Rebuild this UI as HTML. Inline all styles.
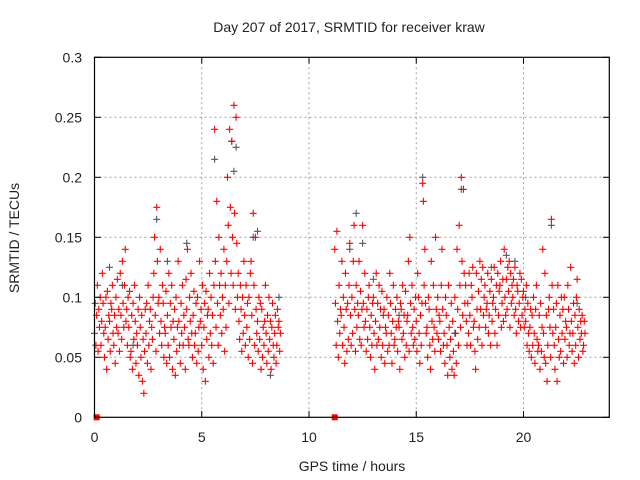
<!DOCTYPE html>
<html><head><meta charset="utf-8"><style>
body{margin:0;background:#fff}
svg{display:block;font-family:"Liberation Sans",sans-serif}
</style></head><body>
<svg id="c" width="640" height="480">
<rect width="640" height="480" fill="#fff"/>
<g id="grid"></g><g id="marks"></g><g id="axes"></g>
</svg>
<script>
const xTicks=[0,5,10,15,20];
const yTicks=[0,0.05,0.1,0.15,0.2,0.25,0.3];
const yTickLabels=["0","0.05","0.1","0.15","0.2","0.25","0.3"];
// red series: [time hours, y1,y2,y3] in 0.001 TECU
const redBins=[
[0.0,70,95,60],[0.1,85,110,55],[0.2,90,75,100],[0.3,60,80,120],[0.4,95,70,50],[0.5,75,100,40],[0.6,105,65,85],[0.7,80,55,95],[0.8,90,110,70],[0.9,60,85,45],
[1.0,100,75,115],[1.1,70,90,55],[1.2,120,85,65],[1.3,130,95,75],[1.4,110,140,80],[1.5,90,60,100],[1.6,75,105,50],[1.7,55,85,40],[1.8,95,65,110],[1.9,80,45,70],
[2.0,60,90,35],[2.1,100,75,50],[2.2,85,30,65],[2.3,20,55,90],[2.4,70,95,45],[2.5,110,60,80],[2.6,90,40,75],[2.7,65,100,120],[2.8,150,85,55],[2.9,175,130,95],
[3.0,100,70,140],[3.1,80,60,110],[3.2,95,50,75],[3.3,70,105,45],[3.4,85,60,120],[3.5,50,95,75],[3.6,110,40,80],[3.7,65,90,35],[3.8,100,55,75],[3.9,130,80,60],
[4.0,45,95,70],[4.1,110,60,85],[4.2,75,40,115],[4.3,90,140,65],[4.4,60,100,80],[4.5,120,70,50],[4.6,85,105,60],[4.7,70,95,45],[4.8,100,55,75],[4.9,130,80,90],
[5.0,60,110,40],[5.1,75,95,30],[5.2,105,65,85],[5.3,90,50,120],[5.4,70,100,60],[5.5,85,45,110],[5.6,240,130,75],[5.7,180,95,60],[5.8,150,110,85],[5.9,120,70,100],
[6.0,90,140,55],[6.1,110,75,130],[6.2,200,160,95],[6.3,240,175,120],[6.4,230,150,110],[6.5,260,170,90],[6.6,250,145,100],[6.7,120,80,65],[6.8,110,90,55],[6.9,100,70,130],
[7.0,85,60,110],[7.1,75,95,50],[7.2,100,65,120],[7.3,130,85,45],[7.4,170,110,60],[7.5,150,90,70],[7.6,80,55,100],[7.7,65,95,40],[7.8,90,50,75],[7.9,60,80,110],
[8.0,70,45,85],[8.1,55,100,65],[8.2,80,40,75],[8.3,95,60,50],[8.4,70,85,45],[8.5,60,90,75],[8.6,80,55,70],
[11.2,140,95,60],[11.3,155,80,50],[11.4,110,70,90],[11.5,85,130,60],[11.6,100,75,45],[11.7,120,90,55],[11.8,95,65,110],[11.9,145,85,60],
[12.0,100,70,130],[12.1,160,90,55],[12.2,110,75,95],[12.3,85,130,65],[12.4,105,60,90],[12.5,160,95,75],[12.6,120,80,55],[12.7,90,65,100],[12.8,110,75,50],[12.9,85,60,95],
[13.0,100,70,40],[13.1,80,120,60],[13.2,95,65,110],[13.3,75,90,50],[13.4,105,60,85],[13.5,90,45,75],[13.6,70,100,55],[13.7,85,60,120],[13.8,95,70,45],[13.9,80,110,60],
[14.0,65,90,75],[14.1,100,55,80],[14.2,75,40,95],[14.3,90,65,110],[14.4,70,85,50],[14.5,105,60,80],[14.6,85,130,55],[14.7,150,95,70],[14.8,110,75,60],[14.9,90,65,100],
[15.0,80,55,120],[15.1,100,70,45],[15.2,85,60,95],[15.3,195,180,110],[15.4,140,95,70],[15.5,75,50,100],[15.6,90,60,40],[15.7,130,80,65],[15.8,110,75,55],[15.9,150,90,70],
[16.0,100,65,85],[16.1,80,55,110],[16.2,140,90,60],[16.3,70,45,100],[16.4,85,60,35],[16.5,110,75,50],[16.6,65,95,40],[16.7,80,55,35],[16.8,100,70,45],[16.9,140,90,60],
[17.0,160,110,75],[17.1,200,130,85],[17.2,190,120,95],[17.3,110,80,60],[17.4,95,70,120],[17.5,85,60,110],[17.6,100,125,75],[17.7,80,55,40],[17.8,120,90,65],[17.9,105,75,130],
[18.0,90,115,60],[18.1,125,85,100],[18.2,110,75,90],[18.3,95,120,70],[18.4,85,105,60],[18.5,115,80,95],[18.6,100,125,70],[18.7,90,110,60],[18.8,120,85,105],[18.9,110,130,75],
[19.0,95,115,80],[19.1,140,100,85],[19.2,115,90,125],[19.3,105,130,75],[19.4,120,95,110],[19.5,100,115,85],[19.6,125,90,70],[19.7,110,105,80],[19.8,95,120,75],[19.9,115,85,100],
[20.0,105,75,90],[20.1,80,110,60],[20.2,95,70,55],[20.3,75,90,50],[20.4,85,60,100],[20.5,70,45,90],[20.6,110,65,55],[20.7,60,85,40],[20.8,95,55,75],[20.9,140,70,50],
[21.0,120,45,85],[21.1,30,60,90],[21.2,100,75,50],[21.3,165,110,70],[21.4,90,60,40],[21.5,75,95,30],[21.6,110,65,50],[21.7,85,55,100],[21.8,70,90,45],[21.9,100,65,80],
[22.0,75,50,110],[22.1,90,60,70],[22.2,125,80,55],[22.3,70,95,45],[22.4,85,60,100],[22.5,115,75,50],[22.6,90,65,80],[22.7,70,85,55],[22.8,60,80,70]
];
const grayTimes=[0.7,1.3,1.8,2.9,3.4,4.3,5.6,6.4,6.5,6.6,7.4,7.6,8.2,8.6,12.2,12.5,13.0,15.3,16.8,17.1,18.5,19.2,20.1,21.3,22.5,19.6,14.2,11.9];
const grayValues=[125,110,60,165,130,145,215,230,205,225,150,155,35,100,170,145,115,200,70,190,125,135,100,160,95,130,85,140];
const zeroTimes=[0.1,11.2];

const X=t=>94.5+t*(609.3-94.5)/24;
const Y=v=>417.3-v*1200;
const NS="http://www.w3.org/2000/svg";
function mk(tag,attrs,parent){const e=document.createElementNS(NS,tag);for(const k in attrs)e.setAttribute(k,attrs[k]);parent.appendChild(e);return e;}
const grid=document.getElementById('grid'),marks=document.getElementById('marks'),axes=document.getElementById('axes');
xTicks.forEach(t=>{if(t>0){const l=mk('line',{x1:X(t),x2:X(t),y1:57.3,y2:417.3,stroke:'#a0a0a0','stroke-dasharray':'2,3'},grid);

}
const tl=mk('line',{x1:X(t),x2:X(t),y1:417.3,y2:411,stroke:'#000'},axes);
const tt=mk('line',{x1:X(t),x2:X(t),y1:57.3,y2:63.6,stroke:'#000'},axes);
const tx=mk('text',{x:X(t),y:442,'text-anchor':'middle','font-size':14,fill:'#222'},axes);tx.textContent=t;

});
yTicks.forEach((v,i)=>{if(v>0&&v<0.3){const l=mk('line',{x1:94.5,x2:609.3,y1:Y(v),y2:Y(v),stroke:'#a0a0a0','stroke-dasharray':'2,3'},grid);

}
mk('line',{x1:94.5,x2:100.8,y1:Y(v),y2:Y(v),stroke:'#000'},axes);
mk('line',{x1:609.3,x2:603,y1:Y(v),y2:Y(v),stroke:'#000'},axes);
const tx=mk('text',{x:82,y:Y(v)+5,'text-anchor':'end','font-size':14,fill:'#222'},axes);tx.textContent=yTickLabels[i];

});
const fr=mk('rect',{x:94.5,y:57.3,width:514.8,height:360,fill:'none',stroke:'#000','stroke-width':1.2},axes);


function cross(x,y,col,name){const p=mk('path',{d:`M${x-3.5},${y}h7M${x},${y-3.5}v7`,stroke:col,'stroke-width':1.1,fill:'none'},marks);

}
grayTimes.forEach((t,i)=>cross(X(t),Y(grayValues[i]/1000),'#556','gray-point'));
redBins.forEach(b=>{for(let j=1;j<4;j++){cross(X(b[0]+(j-1)*0.033),Y(b[j]/1000),'#f00','red-point');}});
zeroTimes.forEach(t=>{const r=mk('rect',{x:X(t)-3,y:Y(0)-3,width:6,height:6,fill:'#f00'},marks);

});
const t1=mk('text',{x:349,y:32,'text-anchor':'middle','font-size':14,fill:'#222'},axes);t1.textContent='Day 207 of 2017, SRMTID for receiver kraw';


const t2=mk('text',{x:352,y:471,'text-anchor':'middle','font-size':14,fill:'#222'},axes);t2.textContent='GPS time / hours';


const t3=mk('text',{x:0,y:0,'text-anchor':'middle','font-size':14,fill:'#222',transform:'translate(19,238) rotate(-90)'},axes);t3.textContent='SRMTID / TECUs';


</script>
</body></html>
